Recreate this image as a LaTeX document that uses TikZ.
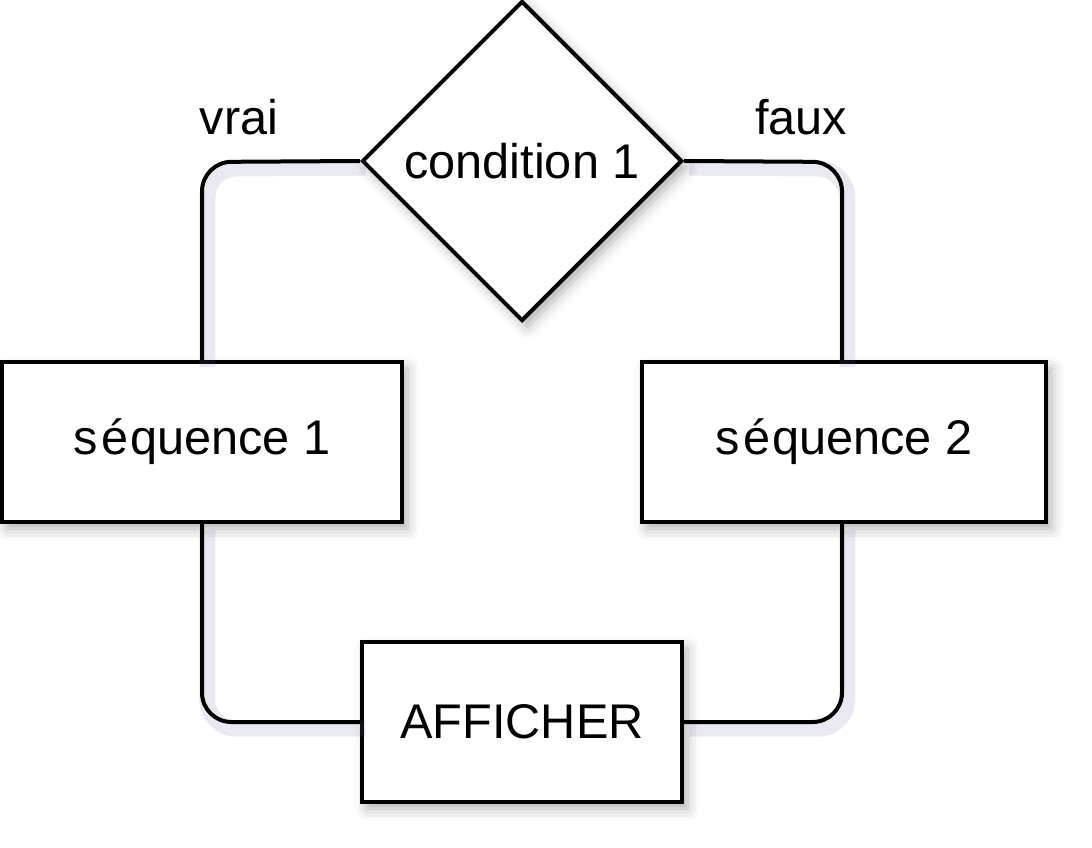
\documentclass[tikz,border=0pt]{standalone}
\usepackage{fontspec}
\setmainfont{Liberation Sans}
\usetikzlibrary{shapes.geometric,shadows.blur}
\definecolor{shc}{RGB}{110,110,160}
\tikzset{
  px/.style={x=0.75pt,y=-0.75pt},
  txt/.style={font=\fontsize{36.5}{44}\selectfont, inner sep=0pt},
  shd/.style={blur shadow={shadow xshift=4pt, shadow yshift=-5pt, shadow blur radius=9pt, shadow opacity=32}},
  box/.style={draw, line width=3pt, fill=white, rectangle, txt,
    minimum height=120pt, shd},
  dia/.style={draw, line width=3pt, fill=white, diamond, aspect=1, txt,
    minimum width=240pt, minimum height=240pt, shd},
  conn/.style={line width=3pt, rounded corners=22pt,
    preaction={draw=shc, opacity=0.15, line width=12pt, transform canvas={xshift=4pt,yshift=-5pt}}},
}
\begin{document}
\begin{tikzpicture}[px]
\useasboundingbox (0,0) rectangle (1092,848);
\coordinate (lt) at (202,162);
\coordinate (rt) at (842,162);
\coordinate (lb) at (202,722);
\coordinate (rb) at (842,722);
\node[dia] (c) at (522,161) {condition 1};
\node[box, minimum width=300pt] (s1) at (202,442) {s\kern3pté\kern1ptquence 1};
\node[box, minimum width=303pt] (s2) at (844,442) {s\kern3pté\kern1ptquence 2};
\node[box, minimum width=240pt] (a) at (522,722) {AFFICHER};
\draw[conn] (c.west) -- (lt) -- (s1.north -| lt);
\draw[conn] (c.east) -- (rt) -- (s2.north -| rt);
\draw[conn] (s1.south -| lb) -- (lb) -- (a.west);
\draw[conn] (s2.south -| rb) -- (rb) -- (a.east);
\node[txt] (v) at (239,117) {vrai};
\node[txt] (f) at (801,117) {faux};
\end{tikzpicture}
\end{document}
